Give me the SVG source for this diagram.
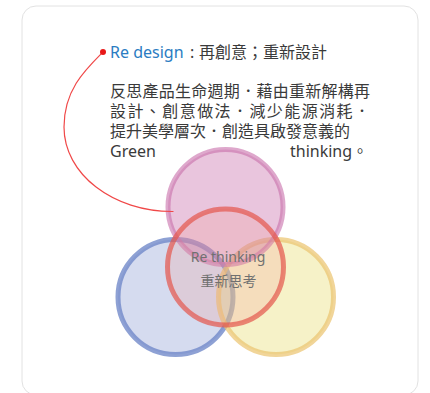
<svg xmlns="http://www.w3.org/2000/svg" width="430" height="393" viewBox="0 0 430 393">
<style>
.txt{font-family:"Noto Sans","Noto Sans CJK TC",sans-serif;font-size:16px;fill:#3a3a3a}
.blue{fill:#2a7cc2}
.lbl{font-family:"Noto Sans","Noto Sans CJK TC",sans-serif;font-size:14px;fill:#707070;text-anchor:middle}
.c{stroke-width:5}
</style>
<rect x="0" y="0" width="430" height="393" fill="#ffffff"/>
<g id="card">
<rect x="22" y="6" width="396" height="389" rx="14" ry="14" fill="#ffffff" stroke="#e2e2e2" stroke-width="1"/>
</g>
<g id="circle-blue"><circle class="c" cx="175.5" cy="297" r="57.5" fill="rgb(110,130,200)" fill-opacity="0.29" stroke="rgb(110,135,200)" stroke-opacity="0.78"/></g>
<g id="circle-yellow"><circle class="c" cx="276" cy="297" r="57.5" fill="rgb(232,220,110)" fill-opacity="0.38" stroke="rgb(235,195,110)" stroke-opacity="0.7"/></g>
<g id="circle-pink"><circle class="c" cx="225.5" cy="207" r="57.5" fill="rgb(200,110,170)" fill-opacity="0.4" stroke="rgb(200,110,170)" stroke-opacity="0.6"/></g>
<g id="circle-red"><circle class="c" cx="225.5" cy="267" r="58" fill="rgb(245,160,150)" fill-opacity="0.25" stroke="rgb(228,85,75)" stroke-opacity="0.7"/></g>
<g id="connectors">
<path d="M103,52 C85,70 64,90 64,127 C64,174 113,212 173.5,211.5" fill="none" stroke="#f04848" stroke-width="1.2"/>
<circle cx="103" cy="52" r="3" fill="#e81818"/>
</g>
<g id="title">
<text class="txt" x="110" y="58"><tspan class="blue">Re design</tspan></text>
<text class="txt" x="190" y="58">:</text>
<text class="txt" x="199" y="58">再創意；重新設計</text>
</g>
<g id="paragraph">
<text class="txt" x="110" y="97" textLength="260" lengthAdjust="spacing">反思產品生命週期．藉由重新解構再</text>
<text class="txt" x="110" y="117" textLength="260" lengthAdjust="spacing">設計、創意做法．減少能源消耗．</text>
<text class="txt" x="110" y="137">提升美學層次．創造具啟發意義的</text>
<text class="txt" x="110" y="157">Green</text>
<text class="txt" x="290" y="157">thinking。</text>
</g>
<g id="center-label">
<text class="lbl" x="228" y="262">Re thinking</text>
<text class="lbl" x="228.5" y="286">重新思考</text>
</g>
</svg>
